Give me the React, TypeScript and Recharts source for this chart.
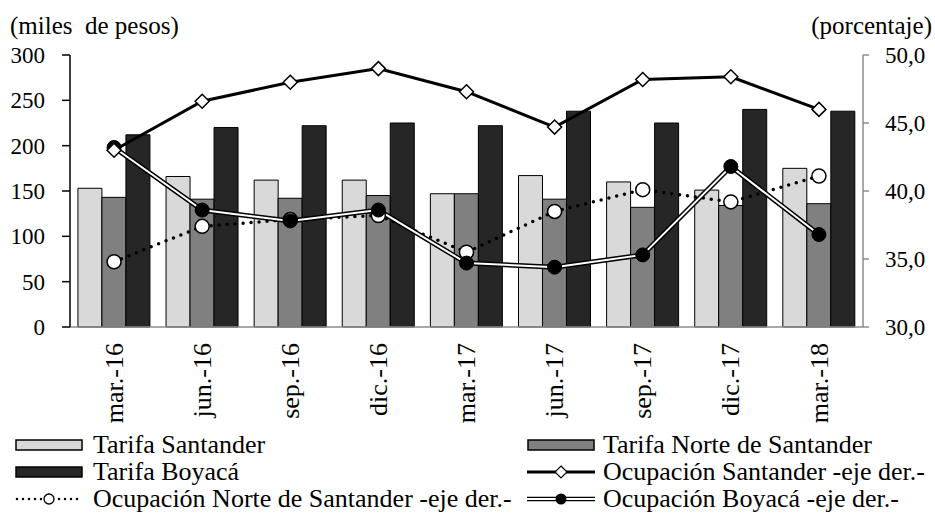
import React from 'react';
import {
    ComposedChart,
    XAxis,
    YAxis,
    Bar,
    Line,
} from 'recharts';

const periods = ['mar.-16', 'jun.-16', 'sep.-16', 'dic.-16', 'mar.-17', 'jun.-17', 'sep.-17', 'dic.-17', 'mar.-18'];

// tarifas (miles de pesos) - eje izquierdo
const tarifaSantander = [153, 166, 162, 162, 147, 167, 160, 151, 175];
const tarifaNorte = [143, 141, 142, 145, 147, 141, 132, 134, 136];
const tarifaBoyaca = [212, 220, 222, 225, 222, 238, 225, 240, 238];

// ocupación (porcentaje) - eje derecho
const ocupSantander = [43.0, 46.6, 48.0, 49.0, 47.3, 44.7, 48.2, 48.4, 46.0];
const ocupNorte = [34.8, 37.4, 37.9, 38.2, 35.5, 38.5, 40.1, 39.2, 41.1];
const ocupBoyaca = [43.2, 38.6, 37.8, 38.6, 34.7, 34.4, 35.3, 41.8, 36.8];

const leftTicks = [0, 50, 100, 150, 200, 250, 300];
const rightTicks = [30, 35, 40, 45, 50];

const data = periods.map((p, i) => ({
    periodo: p,
    tarS: tarifaSantander[i],
    tarN: tarifaNorte[i],
    tarB: tarifaBoyaca[i],
    ocS: ocupSantander[i],
    ocN: ocupNorte[i],
    ocB: ocupBoyaca[i],
}));

const FONT = '"Liberation Serif", "Times New Roman", serif';
const LIGHT = '#d9d9d9';
const MID = '#808080';
const DARK = '#262626';
const AXIS_GRAY = '#8c8c8c';

const Diamond = (props: any) => {
    const { cx, cy } = props;
    if (cx == null || cy == null) return null;
    const s = 7;
    return (
        <polygon
            key={props.key}
            points={`${cx},${cy - s} ${cx + s},${cy} ${cx},${cy + s} ${cx - s},${cy}`}
            fill="#fff"
            stroke="#000"
            strokeWidth={1.5}
        />
    );
};

const OpenDot = (props: any) => {
    const { cx, cy } = props;
    if (cx == null || cy == null) return null;
    return <circle key={props.key} cx={cx} cy={cy} r={7} fill="#fff" stroke="#000" strokeWidth={1.5} />;
};

const FilledDot = (props: any) => {
    const { cx, cy } = props;
    if (cx == null || cy == null) return null;
    return <circle key={props.key} cx={cx} cy={cy} r={7} fill="#000" stroke="#000" strokeWidth={1} />;
};

const XTick = (props: any) => {
    const { x, y, payload } = props;
    const ty = y + 16;
    return (
        <text
            x={x}
            y={ty}
            transform={`rotate(-90, ${x}, ${ty})`}
            textAnchor="end"
            dy="0.33em"
            fontSize={26}
            fontFamily={FONT}
            fill="#000"
        >
            {payload.value}
        </text>
    );
};

// swatches de la leyenda
const BarSwatch = ({ color }: { color: string }) => (
    <svg width={68} height={14} style={{ display: 'block' }}>
        <rect x={1} y={2} width={66} height={10} fill={color} stroke="#000" strokeWidth={1.5} />
    </svg>
);

const LineSwatch = ({ kind }: { kind: 'solid' | 'dotted' | 'double' }) => (
    <svg width={68} height={16} style={{ display: 'block' }}>
        {kind === 'solid' && (
            <>
                <line x1={0} x2={68} y1={8} y2={8} stroke="#000" strokeWidth={3} />
                <polygon points="34,2 40,8 34,14 28,8" fill="#fff" stroke="#000" strokeWidth={1.2} />
            </>
        )}
        {kind === 'dotted' && (
            <>
                <line x1={2} x2={68} y1={8} y2={8} stroke="#000" strokeWidth={2.5} strokeDasharray="0 6" strokeLinecap="round" />
                <circle cx={34} cy={8} r={5} fill="#fff" stroke="#000" strokeWidth={1.3} />
            </>
        )}
        {kind === 'double' && (
            <>
                <line x1={0} x2={68} y1={8} y2={8} stroke="#000" strokeWidth={4.5} />
                <line x1={0} x2={68} y1={8} y2={8} stroke="#fff" strokeWidth={1.8} />
                <circle cx={34} cy={8} r={5.5} fill="#000" />
            </>
        )}
    </svg>
);

const legendItems = [
    { label: 'Tarifa Santander', swatch: <BarSwatch color={LIGHT} />, x: 15, row: 0 },
    { label: 'Tarifa Norte de Santander', swatch: <BarSwatch color={MID} />, x: 527, row: 0 },
    { label: 'Tarifa Boyacá', swatch: <BarSwatch color={DARK} />, x: 15, row: 1 },
    { label: 'Ocupación Santander -eje der.-', swatch: <LineSwatch kind="solid" />, x: 527, row: 1 },
    { label: 'Ocupación Norte de Santander -eje der.-', swatch: <LineSwatch kind="dotted" />, x: 15, row: 2 },
    { label: 'Ocupación Boyacá -eje der.-', swatch: <LineSwatch kind="double" />, x: 527, row: 2 },
];

export default function App() {
    return (
        <div
            style={{
                position: 'absolute',
                left: 0,
                top: 0,
                width: 935,
                height: 518,
                background: '#fff',
                fontFamily: FONT,
                color: '#000',
                overflow: 'hidden',
            }}
        >
            <div style={{ position: 'absolute', left: 10, top: 13, fontSize: 25, lineHeight: '25px', whiteSpace: 'pre' }}>
                (miles  de pesos)
            </div>
            <div style={{ position: 'absolute', right: 3, top: 13, fontSize: 25, lineHeight: '25px' }}>
                (porcentaje)
            </div>

            <ComposedChart
                width={935}
                height={430}
                data={data}
                margin={{ top: 55, right: 0, bottom: 0, left: 0 }}
                barCategoryGap="9%"
                barGap={0}
            >
                <XAxis
                    dataKey="periodo"
                    height={103}
                    stroke={AXIS_GRAY}
                    strokeWidth={1.5}
                    tickLine={false}
                    tickSize={0}
                    tickMargin={0}
                    interval={0}
                    tick={<XTick />}
                />
                <YAxis
                    yAxisId="left"
                    orientation="left"
                    width={70}
                    domain={[0, 300]}
                    ticks={leftTicks}
                    stroke="#000"
                    strokeWidth={1.5}
                    tickSize={8}
                    tickMargin={17}
                    tick={{ fontSize: 23, fill: '#000', fontFamily: FONT }}
                />
                <YAxis
                    yAxisId="right"
                    orientation="right"
                    width={72}
                    domain={[30, 50]}
                    ticks={rightTicks}
                    stroke={AXIS_GRAY}
                    strokeWidth={1.5}
                    tickSize={6}
                    tickMargin={16}
                    tickFormatter={(v: number) => v.toFixed(1).replace('.', ',')}
                    tick={{ fontSize: 23, fill: '#000', fontFamily: FONT }}
                />

                <Bar yAxisId="left" dataKey="tarS" fill={LIGHT} stroke="#000" strokeWidth={1} isAnimationActive={false} />
                <Bar yAxisId="left" dataKey="tarN" fill={MID} stroke="#000" strokeWidth={1} isAnimationActive={false} />
                <Bar yAxisId="left" dataKey="tarB" fill={DARK} stroke="#000" strokeWidth={1} isAnimationActive={false} />

                <Line
                    yAxisId="right"
                    dataKey="ocN"
                    stroke="#000"
                    strokeWidth={3.5}
                    strokeDasharray="0 8"
                    strokeLinecap="round"
                    dot={OpenDot}
                    activeDot={false}
                    isAnimationActive={false}
                />
                <Line
                    yAxisId="right"
                    dataKey="ocB"
                    stroke="#000"
                    strokeWidth={5}
                    dot={false}
                    activeDot={false}
                    legendType="none"
                    isAnimationActive={false}
                />
                <Line
                    yAxisId="right"
                    dataKey="ocB"
                    stroke="#fff"
                    strokeWidth={2}
                    dot={FilledDot}
                    activeDot={false}
                    isAnimationActive={false}
                />
                <Line
                    yAxisId="right"
                    dataKey="ocS"
                    stroke="#000"
                    strokeWidth={3}
                    dot={Diamond}
                    activeDot={false}
                    isAnimationActive={false}
                />
            </ComposedChart>

            {legendItems.map((it) => (
                <div
                    key={it.label}
                    style={{
                        position: 'absolute',
                        left: it.x,
                        top: 431 + it.row * 27,
                        height: 27,
                        display: 'flex',
                        alignItems: 'center',
                        whiteSpace: 'nowrap',
                        fontSize: 26,
                        lineHeight: '27px',
                    }}
                >
                    {it.swatch}
                    <span style={{ marginLeft: it.x === 15 ? 10 : 8 }}>{it.label}</span>
                </div>
            ))}
        </div>
    );
}
